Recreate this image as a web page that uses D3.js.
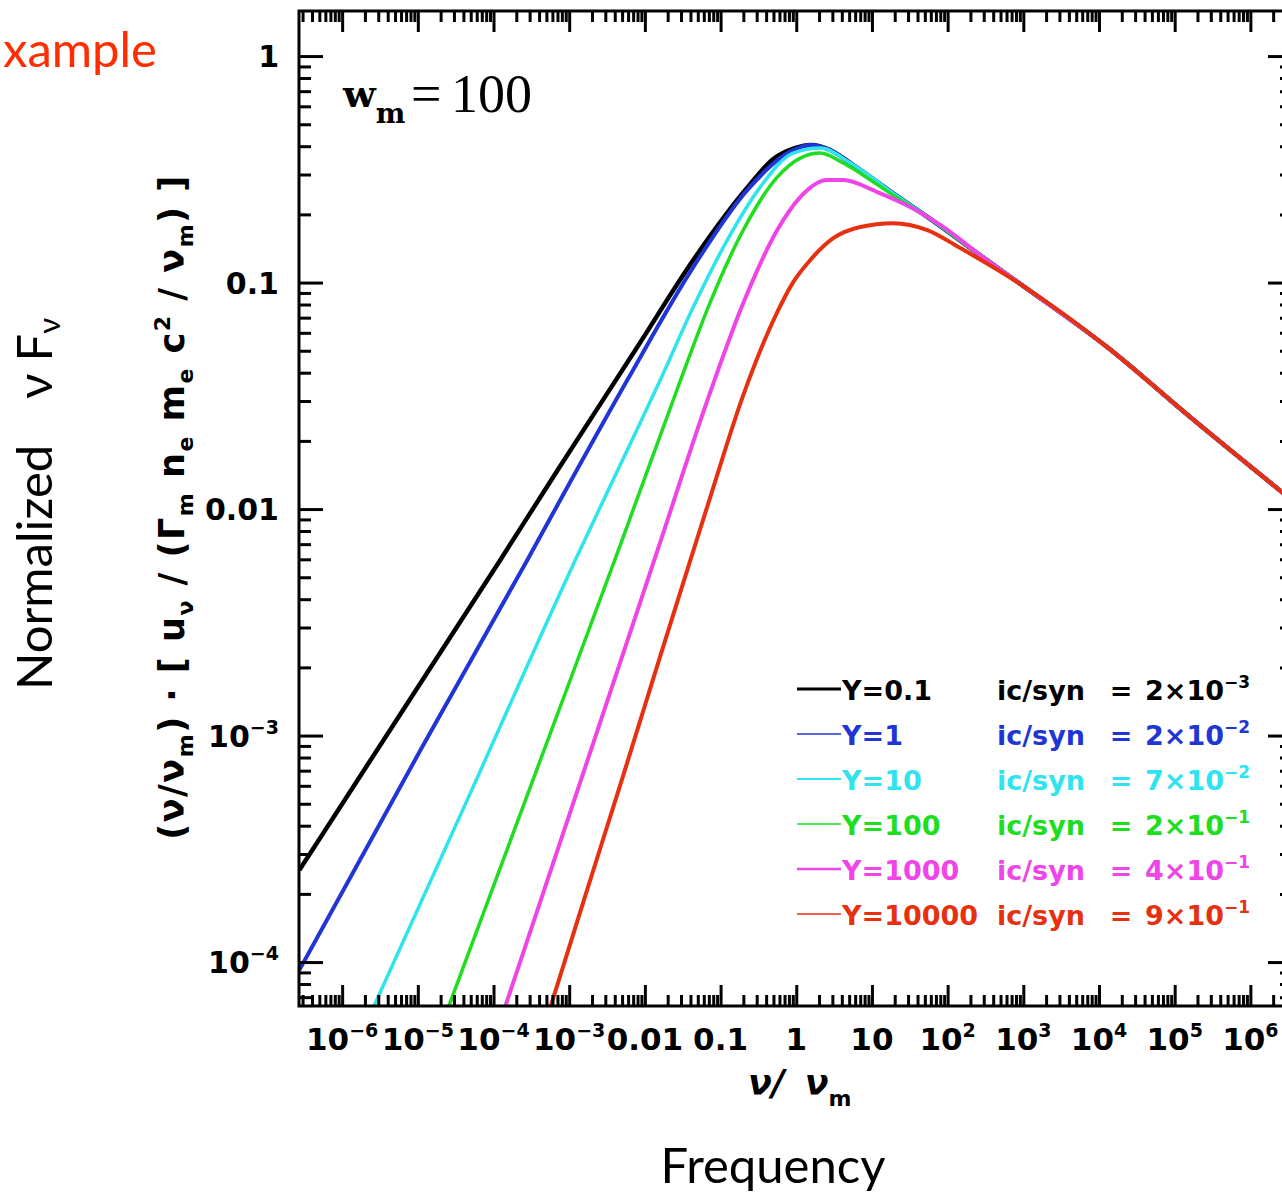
<!DOCTYPE html>
<html>
<head>
<meta charset="utf-8">
<script src="https://cdn.jsdelivr.net/npm/d3@7"></script>
<style>
  html, body { margin: 0; padding: 0; background: #fff; }
  svg { display: block; }
</style>
</head>
<body>
<svg id="chart" width="1282" height="1193"></svg>
<script>
// tick values and their labels ([mantissa, exponent])
const xTicks = [1e-6, 1e-5, 1e-4, 1e-3, 0.01, 0.1, 1, 10, 1e2, 1e3, 1e4, 1e5, 1e6];
const xTickLabels = [['10', '−6'], ['10', '−5'], ['10', '−4'], ['10', '−3'], ['0.01'], ['0.1'], ['1'], ['10'],
  ['10', '2'], ['10', '3'], ['10', '4'], ['10', '5'], ['10', '6']];
const yTicks = [1e-4, 1e-3, 0.01, 0.1, 1];
const yTickLabels = [['10', '−4'], ['10', '−3'], ['0.01'], ['0.1'], ['1']];

// legend
const seriesNames = ['Y=0.1', 'Y=1', 'Y=10', 'Y=100', 'Y=1000', 'Y=10000'];
const ratioMantissa = ['2', '2', '7', '2', '4', '9'];
const ratioExponent = ['−3', '−2', '−2', '−1', '−1', '−1'];
const seriesColors = ['#000000', '#1f35d6', '#2fe3ef', '#1fdd1f', '#ee44e8', '#e6300f'];

// curves: [nu/nu_m, flux]
// high-frequency branch that all curves share once they merge
const tail = [[5.2, 0.337], [19, 0.248], [54, 0.195], [270, 0.132], [1000, 0.0965],
  [1.28e4, 0.0519], [1.6e5, 0.0255], [3.6e6, 0.0109]];

const curveY01 = [[2.72e-7, 2.55e-4], [1.23e-4, 5.96e-3], [7.62e-4, 0.0155], [7.94e-3, 0.0519],
  [0.0436, 0.1257], [0.225, 0.262], [0.497, 0.351], [0.912, 0.39], [1.53, 0.405], [2.81, 0.385]];
const curveY1 = [[2.72e-7, 9.23e-5], [1.18e-5, 9.08e-4], [2.80e-4, 5.96e-3], [7.62e-4, 0.01096],
  [5.86e-3, 0.0371], [0.0436, 0.117], [0.225, 0.256], [0.912, 0.385], [1.53, 0.405], [2.81, 0.385]];
const curveY10 = [[1.74e-6, 4.71e-5], [4.94e-5, 5.57e-4], [1.205e-3, 5.96e-3], [5.86e-3, 0.01822],
  [0.01596, 0.0371], [0.0436, 0.078], [0.1226, 0.154], [0.3345, 0.264], [0.912, 0.373], [2.075, 0.3925]];
const curveY100 = [[1.81e-5, 4.67e-5], [4.55e-4, 8.45e-4], [4.73e-3, 6.93e-3], [0.0268, 0.0339],
  [0.0731, 0.082], [0.1995, 0.1706], [0.561, 0.292], [1.13, 0.3545], [2.075, 0.373],
  [4.18, 0.337], [7.0, 0.304], [19, 0.243]];
const curveY1000 = [[1.057e-4, 4.71e-5], [2.58e-3, 1.148e-3], [0.0146, 6.53e-3], [0.0731, 0.03285],
  [0.1995, 0.0812], [0.561, 0.1706], [1.13, 0.2385], [2.57, 0.2836], [4.18, 0.2836],
  [11.75, 0.251], [32.1, 0.2155], [87.5, 0.176]];
const curveY10000 = [[4.28e-4, 4.71e-5], [1.535e-3, 1.84e-4], [5.19e-3, 6.69e-4], [0.01596, 2.244e-3],
  [0.0423, 6.33e-3], [0.0731, 0.0113], [0.1995, 0.03186], [0.561, 0.0741], [0.912, 0.1005], [1.53, 0.1257],
  [3.08, 0.157], [7.0, 0.176], [19, 0.183], [54, 0.1706], [147, 0.142]];

const curves = [
  curveY01.concat(tail),
  curveY1.concat(tail),
  curveY10.concat(tail),
  curveY100.concat(tail.slice(2)),
  curveY1000.concat(tail.slice(3)),
  curveY10000.concat(tail.slice(4)),
];
const curveWidths = [4.5, 4, 3.5, 3.5, 4, 4];
const legendWidths = [3, 1.6, 2, 1.6, 2.5, 1.6];

const svg = d3.select('#chart');
const frame = { left: 299, top: 11, right: 1292, bottom: 1006 };

const x = d3.scaleLog()
  .domain([Math.pow(10, -6.57), Math.pow(10, 6.55)])
  .range([frame.left, frame.right]);
const y = d3.scaleLog()
  .domain([Math.pow(10, -4.194), Math.pow(10, 0.199)])
  .range([frame.bottom, frame.top]);

const TICK_FONT = '"DejaVu Sans", sans-serif';

function minorTicks(scale) {
  const [a, b] = scale.domain();
  const out = [];
  for (let e = Math.floor(Math.log10(a)); e <= Math.ceil(Math.log10(b)); e++) {
    for (let k = 2; k <= 9; k++) {
      const v = k * Math.pow(10, e);
      if (v >= a && v <= b) out.push(v);
    }
  }
  return out;
}

function drawTicks(axisFn, scale, values, size, transform) {
  svg.append('g')
    .attr('transform', transform)
    .call(axisFn(scale).tickValues(values).tickSize(size).tickSizeOuter(0).tickFormat(''))
    .call(g => g.select('.domain').remove())
    .call(g => g.selectAll('line').attr('stroke', '#000').attr('stroke-width', 3));
}

function addParts(text, parts, supSize, supShift) {
  text.append('tspan').text(parts[0]);
  if (parts[1]) {
    text.append('tspan').attr('font-size', supSize).attr('dy', -supShift).text(parts[1]);
  }
}

// curves
svg.append('clipPath').attr('id', 'plot-clip')
  .append('rect')
  .attr('x', frame.left).attr('y', frame.top)
  .attr('width', frame.right - frame.left).attr('height', frame.bottom - frame.top);

const line = d3.line()
  .x(d => x(d[0]))
  .y(d => y(d[1]))
  .curve(d3.curveMonotoneX);

svg.append('g')
  .attr('clip-path', 'url(#plot-clip)')
  .selectAll('path')
  .data(curves)
  .join('path')
  .attr('d', line)
  .attr('fill', 'none')
  .attr('stroke', (d, i) => seriesColors[i])
  .attr('stroke-width', (d, i) => curveWidths[i])
  .attr('stroke-linejoin', 'round');

// ticks on all four sides, pointing inward
const xMinor = minorTicks(x);
const yMinor = minorTicks(y);
drawTicks(d3.axisBottom, x, xTicks, -21, `translate(0,${frame.bottom})`);
drawTicks(d3.axisBottom, x, xMinor, -11, `translate(0,${frame.bottom})`);
drawTicks(d3.axisTop, x, xTicks, -21, `translate(0,${frame.top})`);
drawTicks(d3.axisTop, x, xMinor, -11, `translate(0,${frame.top})`);
drawTicks(d3.axisLeft, y, yTicks, -24, `translate(${frame.left},0)`);
drawTicks(d3.axisLeft, y, yMinor, -12, `translate(${frame.left},0)`);
drawTicks(d3.axisRight, y, yTicks, -24, `translate(${frame.right},0)`);
drawTicks(d3.axisRight, y, yMinor, -12, `translate(${frame.right},0)`);

svg.append('rect')
  .attr('x', frame.left).attr('y', frame.top)
  .attr('width', frame.right - frame.left).attr('height', frame.bottom - frame.top)
  .attr('fill', 'none').attr('stroke', '#000').attr('stroke-width', 3);

// tick labels
xTicks.forEach((v, i) => {
  const t = svg.append('text')
    .attr('x', x(v)).attr('y', 1050)
    .attr('text-anchor', 'middle')
    .attr('font-family', TICK_FONT).attr('font-weight', 'bold').attr('font-size', 31);
  addParts(t, xTickLabels[i], 19, 13);
});

yTicks.forEach((v, i) => {
  const t = svg.append('text')
    .attr('x', 279).attr('y', y(v) + 11)
    .attr('text-anchor', 'end')
    .attr('font-family', TICK_FONT).attr('font-weight', 'bold').attr('font-size', 30);
  addParts(t, yTickLabels[i], 19, 13);
});

// axis titles inside the figure
const yTitle = svg.append('text')
  .attr('transform', 'translate(184,507) rotate(-90)')
  .attr('text-anchor', 'middle')
  .attr('letter-spacing', 1.5)
  .attr('font-family', TICK_FONT).attr('font-weight', 'bold').attr('font-size', 35);
[
  ['(ν/ν', 0], ['m', 1], [')', -1], ['  ·  [ u', 0], ['ν', 1], [' / (Γ', -1], ['m', 1], [' n', -1], ['e', 1],
  [' m', -1], ['e', 1], [' c', -1], ['2', 2], [' / ν', -2], ['m', 1], [') ]', -1],
].forEach(([s, kind]) => {
  const sp = yTitle.append('tspan').text(s);
  if (kind === 1) sp.attr('font-size', 22).attr('dy', 9);
  if (kind === 2) sp.attr('font-size', 22).attr('dy', -14);
  if (kind === -1) sp.attr('dy', -9);
  if (kind === -2) sp.attr('dy', 14);
});

const xTitle = svg.append('text')
  .attr('x', 748).attr('y', 1095)
  .attr('font-family', TICK_FONT).attr('font-weight', 'bold').attr('font-style', 'italic')
  .attr('font-size', 35);
xTitle.append('tspan').text('ν/');
xTitle.append('tspan').attr('dx', 20).text('ν');
xTitle.append('tspan').attr('font-size', 22).attr('dy', 11).attr('font-style', 'normal').text('m');

// w_m = 100
const SERIF = '"Liberation Serif", serif';
const wm = svg.append('text').attr('x', 343).attr('y', 107);
wm.append('tspan').attr('font-family', '"DejaVu Serif", serif').attr('font-weight', 'bold').attr('font-size', 38).text('w');
wm.append('tspan').attr('font-family', '"DejaVu Serif", serif').attr('font-weight', 'bold').attr('font-size', 28)
  .attr('dy', 16).text('m');
svg.append('text').attr('x', 411).attr('y', 112)
  .attr('font-family', SERIF).attr('font-size', 54).text('=');
svg.append('text').attr('x', 451).attr('y', 112)
  .attr('font-family', SERIF).attr('font-size', 54).text('100');

// legend
seriesNames.forEach((name, i) => {
  const ly = 689 + 45 * i;
  const c = seriesColors[i];
  svg.append('line')
    .attr('x1', 797).attr('x2', 841).attr('y1', ly).attr('y2', ly)
    .attr('stroke', c).attr('stroke-width', legendWidths[i]);
  const font = g => g.attr('font-family', TICK_FONT).attr('font-weight', 'bold').attr('font-size', 27).attr('fill', c);
  svg.append('text').attr('x', 842).attr('y', ly + 11).call(font).text(name);
  svg.append('text').attr('x', 997).attr('y', ly + 11).call(font).text('ic/syn');
  svg.append('text').attr('x', 1121).attr('y', ly + 11).attr('text-anchor', 'middle').call(font).text('=');
  const r = svg.append('text').attr('x', 1145).attr('y', ly + 11).call(font);
  r.append('tspan').text(ratioMantissa[i] + '×10');
  r.append('tspan').attr('font-size', 17).attr('dy', -12).text(ratioExponent[i]);
});

// slide annotations around the figure
const SLIDE_FONT = 'Lato, "Open Sans", sans-serif';
svg.append('text')
  .attr('x', 3).attr('y', 67)
  .attr('font-family', SLIDE_FONT).attr('font-size', 49).attr('fill', '#ff2d00')
  .text('xample');

svg.append('text')
  .attr('x', 773).attr('y', 1183)
  .attr('text-anchor', 'middle')
  .attr('font-family', SLIDE_FONT).attr('font-size', 49)
  .text('Frequency');

const outerY = svg.append('text')
  .attr('transform', 'translate(52,690) rotate(-90)')
  .attr('font-family', SLIDE_FONT).attr('font-size', 49);
outerY.append('tspan').text('Normalized');
outerY.append('tspan').attr('dx', 46).text('ν');
outerY.append('tspan').attr('dx', 12).text('F');
outerY.append('tspan').attr('font-size', 31).attr('dy', 8).text('ν');
</script>
</body>
</html>
